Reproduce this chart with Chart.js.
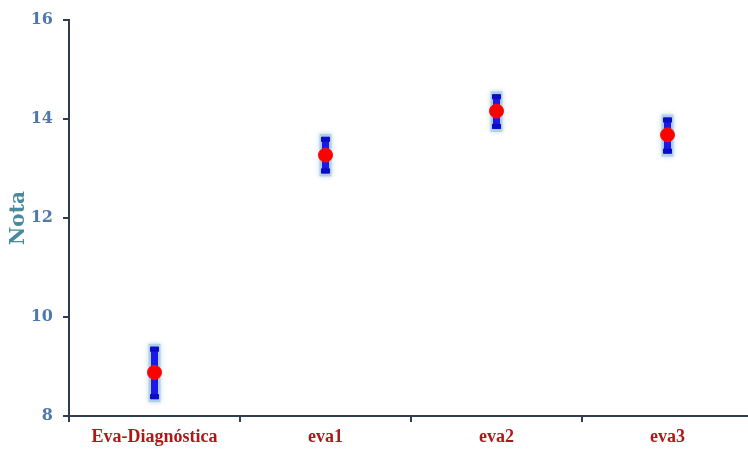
<!DOCTYPE html>
<html>
<head>
<meta charset="utf-8">
<script src="https://cdn.jsdelivr.net/npm/chart.js@4"></script>
<style>
  html, body { margin: 0; padding: 0; background: #fff; overflow: hidden; }
  #wrap { width: 761px; height: 450px; }
</style>
</head>
<body>
<div id="wrap"><canvas id="chart" width="761" height="450"></canvas></div>
<script>
// data
const categories = ['Eva-Diagnóstica', 'eva1', 'eva2', 'eva3'];
const means = [8.88, 13.27, 14.16, 13.68];
const errLow = [8.34, 12.90, 13.80, 13.30];
const errHigh = [9.40, 13.64, 14.50, 14.03];

const yTicks = [8, 10, 12, 14, 16];

// draws the blue error bars under the points
const errorBars = {
    id: 'errorBars',
    beforeDatasetsDraw(chart) {
        const ctx = chart.ctx;
        const x = chart.scales.x;
        const y = chart.scales.y;
        ctx.save();
        categories.forEach((c, i) => {
            const px = x.getPixelForValue(i);
            const top = y.getPixelForValue(errHigh[i]);
            const bot = y.getPixelForValue(errLow[i]);
            // soft glow behind the bar
            ctx.shadowColor = 'rgba(150,190,220,0.9)';
            ctx.shadowBlur = 5;
            ctx.fillStyle = 'rgba(160,198,225,0.7)';
            ctx.fillRect(px - 6, top - 3, 12, bot - top + 6);
            ctx.shadowBlur = 0;
            ctx.fillStyle = '#1a1ae8';
            ctx.fillRect(px - 3.5, top, 7, bot - top);
            // caps
            ctx.fillStyle = '#0c0cc8';
            ctx.fillRect(px - 4.5, top, 9, 5);
            ctx.fillRect(px - 4.5, bot - 5, 9, 5);
        });
        ctx.restore();
    }
};

new Chart(document.getElementById('chart'), {
    type: 'line',
    data: {
        labels: categories,
        datasets: [{
            data: means,
            showLine: false,
            pointRadius: 7,
            pointHoverRadius: 7,
            pointBackgroundColor: '#ff0000',
            pointBorderColor: '#ee1111',
            pointBorderWidth: 1
        }]
    },
    options: {
        responsive: false,
        animation: false,
        layout: { padding: { top: 20, right: 0, left: 0, bottom: 0 } },
        plugins: {
            legend: { display: false },
            tooltip: { enabled: false }
        },
        scales: {
            x: {
                offset: true,
                afterFit: s => { s.height = 34; },
                border: { color: '#2f3e4e', width: 2 },
                grid: {
                    offset: true,
                    drawOnChartArea: false,
                    drawTicks: true,
                    tickLength: 6,
                    color: '#2f3e4e',
                    lineWidth: 2
                },
                ticks: {
                    color: '#b01818',
                    padding: 5,
                    font: { family: 'Liberation Serif', weight: 'bold', size: 18 }
                }
            },
            y: {
                min: 8,
                max: 16,
                afterFit: s => { s.width = 69; },
                afterBuildTicks: s => { s.ticks = yTicks.map(v => ({ value: v })); },
                border: { color: '#2f3e4e', width: 2 },
                grid: {
                    drawOnChartArea: false,
                    drawTicks: true,
                    tickLength: 6,
                    color: '#2f3e4e',
                    lineWidth: 2
                },
                ticks: {
                    color: '#4f78ad',
                    padding: 10,
                    font: { family: 'DejaVu Serif', weight: 'bold', size: 16 }
                },
                title: {
                    display: true,
                    text: 'Nota',
                    color: '#4a8a9c',
                    padding: { top: 7, bottom: 0 },
                    font: { family: 'DejaVu Serif', weight: 'bold', size: 20 }
                }
            }
        }
    },
    plugins: [errorBars]
});
</script>
</body>
</html>
